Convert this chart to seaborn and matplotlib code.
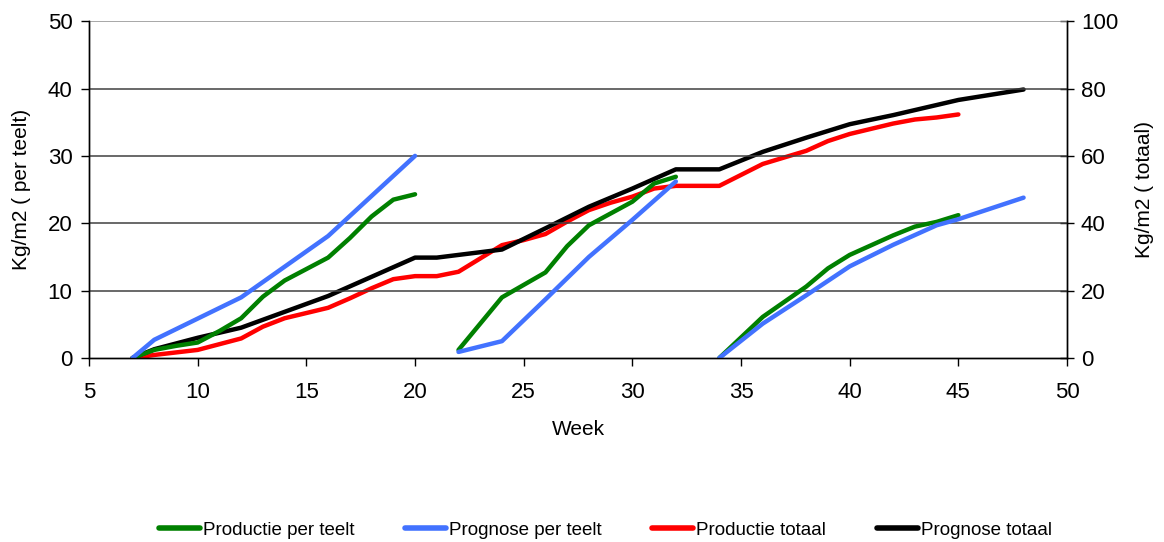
import matplotlib
matplotlib.use("Agg")
import matplotlib.pyplot as plt
from matplotlib.lines import Line2D
import seaborn as sns
import pandas as pd

# ---- data ----
prod_teelt_weeks = [[7, 8, 9, 10, 11, 12, 13, 14, 16, 17, 18, 19, 20],
                    [22, 24, 26, 27, 28, 30, 31, 32],
                    [34, 36, 38, 39, 40, 42, 43, 44, 45]]
prod_teelt_vals = [[0, 1.2, 1.8, 2.3, 4.0, 5.9, 9.1, 11.5, 14.9, 17.8, 21.0, 23.5, 24.3],
                   [1.2, 9.0, 12.7, 16.6, 19.7, 23.2, 25.9, 26.9],
                   [0, 6.1, 10.6, 13.3, 15.3, 18.2, 19.5, 20.2, 21.2]]

progn_teelt_weeks = [[7, 8, 12, 16, 20],
                     [22, 24, 26, 28, 30, 32],
                     [34, 36, 38, 40, 42, 44, 45, 48]]
progn_teelt_vals = [[0, 2.7, 9.0, 18.1, 30.0],
                    [0.9, 2.5, 8.7, 15.0, 20.5, 26.2],
                    [0, 5.1, 9.3, 13.6, 16.8, 19.7, 20.6, 23.8]]

prod_totaal_weeks = [7, 8, 10, 12, 13, 14, 16, 17, 18, 19, 20, 21, 22, 24, 25, 26, 27, 28,
                     29, 30, 31, 32, 34, 36, 38, 39, 40, 42, 43, 44, 45]
prod_totaal_vals = [0, 0.9, 2.4, 5.8, 9.3, 11.8, 14.9, 17.7, 20.7, 23.4, 24.3, 24.3, 25.6,
                    33.5, 35.0, 36.8, 40.5, 43.9, 46.1, 47.9, 50.3, 51.1, 51.1, 57.6, 61.5,
                    64.4, 66.5, 69.6, 70.8, 71.4, 72.3]

progn_totaal_weeks = [7, 8, 10, 12, 16, 20, 21, 24, 26, 28, 30, 32, 34, 36, 38, 40, 42, 44, 45, 48]
progn_totaal_vals = [0, 2.6, 6.0, 9.0, 18.4, 29.8, 29.8, 32.2, 38.5, 44.9, 50.3, 56.0, 56.0,
                     61.2, 65.4, 69.4, 72.1, 75.1, 76.6, 79.7]

series_names = ["Productie per teelt", "Prognose per teelt", "Productie totaal", "Prognose totaal"]
colors = ["#008000", "#4272ff", "#ff0000", "#000000"]

# ---- frames ----
def seg_frame(weeks, vals, name):
    rows = []
    for i, (w, v) in enumerate(zip(weeks, vals)):
        for a, b in zip(w, v):
            rows.append({"week": a, "value": b, "seg": i, "series": name})
    return pd.DataFrame(rows)

df_left = pd.concat([seg_frame(prod_teelt_weeks, prod_teelt_vals, series_names[0]),
                     seg_frame(progn_teelt_weeks, progn_teelt_vals, series_names[1])])
df_right = pd.concat([seg_frame([prod_totaal_weeks], [prod_totaal_vals], series_names[2]),
                      seg_frame([progn_totaal_weeks], [progn_totaal_vals], series_names[3])])

sns.set_theme(style="white")
plt.rcParams["font.family"] = ["Liberation Sans", "DejaVu Sans"]
plt.rcParams["text.color"] = "black"
plt.rcParams["axes.labelcolor"] = "black"
plt.rcParams["xtick.color"] = "black"
plt.rcParams["ytick.color"] = "black"

fig = plt.figure(figsize=(11.64, 5.42), dpi=100)
ax = fig.add_axes([0.0765, 0.3395, 0.8402, 0.6215])
ax2 = ax.twinx()

for y in range(10, 51, 10):
    ax.axhline(y, color="#909090" if y == 50 else "#404040", lw=1.1, zorder=0)

sns.lineplot(data=df_right, x="week", y="value", hue="series", units="seg", estimator=None,
             palette={series_names[2]: colors[2], series_names[3]: colors[3]},
             hue_order=series_names[2:], lw=3.2, ax=ax2, legend=False, sort=False)
sns.lineplot(data=df_left, x="week", y="value", hue="series", units="seg", estimator=None,
             palette={series_names[0]: colors[0], series_names[1]: colors[1]},
             hue_order=series_names[:2], lw=3.2, ax=ax, legend=False, sort=False)

# put left axis lines above right axis lines
ax.set_zorder(ax2.get_zorder() + 1)
ax.patch.set_visible(False)

ax.set_xlim(5, 50)
ax.set_ylim(0, 50)
ax2.set_ylim(0, 100)
ax.set_xticks(range(5, 51, 5))
ax.set_yticks(range(0, 51, 10))
ax2.set_yticks(range(0, 101, 20))

fs = 16
ax.tick_params(axis="x", labelsize=fs, direction="out", length=5.5, width=1, color="black",
               labelcolor="black", bottom=True, pad=12)
ax.tick_params(axis="y", labelsize=fs, direction="out", length=6, width=1, color="black",
               labelcolor="black", left=True, pad=6)
ax2.tick_params(axis="y", labelsize=fs, direction="inout", length=10, width=1, color="black",
                labelcolor="black", right=True, pad=5)
ax.set_xlabel("Week", fontsize=15, labelpad=12, color="black")
ax.set_ylabel("Kg/m2 ( per teelt)", fontsize=15, labelpad=12, color="black")
ax2.set_ylabel("Kg/m2 ( totaal)", fontsize=15, labelpad=12, color="black")

for a in (ax, ax2):
    for s in ("left", "right", "bottom"):
        a.spines[s].set_color("black")
        a.spines[s].set_linewidth(1)
    a.spines["top"].set_visible(False)

handles = [Line2D([0], [0], color=c, lw=4) for c in colors]
leg = fig.legend(handles, series_names, loc="lower center", bbox_to_anchor=(0.52, -0.025), ncol=4,
                 frameon=False, fontsize=13.5, handlelength=2.2, handletextpad=0.15,
                 columnspacing=2.7)
for t in leg.get_texts():
    t.set_color("black")

fig.savefig("out.png", dpi=100)
